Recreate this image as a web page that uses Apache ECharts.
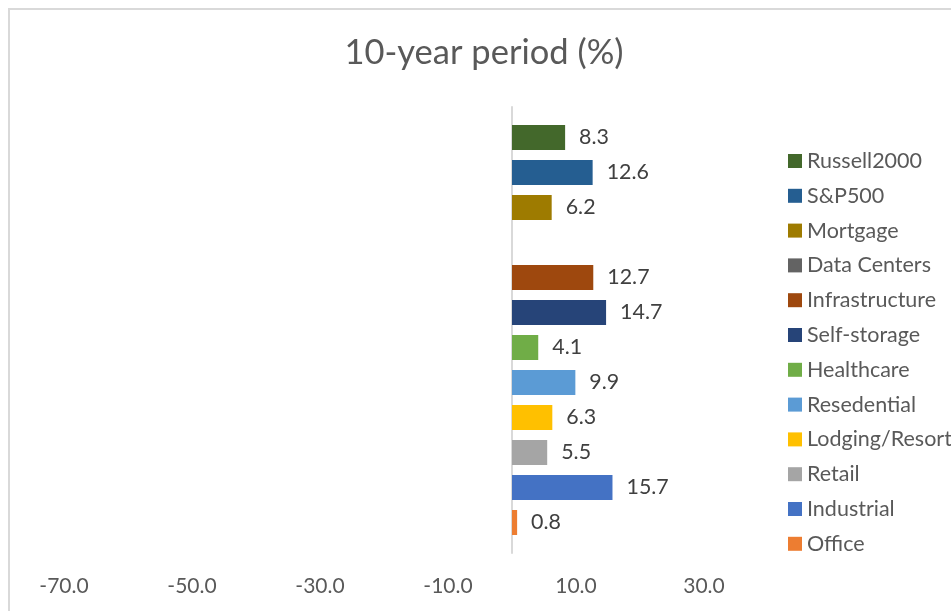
<!DOCTYPE html>
<html>
<head>
<meta charset="utf-8">
<style>
  html, body { margin: 0; padding: 0; background: #ffffff; }
  #chart { width: 951px; height: 611px; }
</style>
<script src="https://cdn.jsdelivr.net/npm/echarts@6/dist/echarts.min.js"></script>
</head>
<body>
<div id="chart"></div>
<script>
// 10-year returns by sector / benchmark (%), listed top to bottom
const seriesNames = ['Russell2000', 'S&P500', 'Mortgage', 'Data Centers', 'Infrastructure',
  'Self-storage', 'Healthcare', 'Resedential', 'Lodging/Resort', 'Retail', 'Industrial', 'Office'];
const seriesValues = [8.3, 12.6, 6.2, null, 12.7, 14.7, 4.1, 9.9, 6.3, 5.5, 15.7, 0.8];
const seriesColors = ['#43682b', '#255e91', '#9e7b00', '#636363', '#9e480e', '#264478',
  '#70ad47', '#5b9bd5', '#ffc000', '#a5a5a5', '#4472c4', '#ed7d31'];
const periods = ['10-year'];
const axisMin = -70;
const axisMax = 40;

const FONT = 'Lato, "Open Sans", sans-serif';

const series = seriesNames.map((name, i) => ({
  name: name,
  type: 'bar',
  data: [seriesValues[i]],
  barWidth: 25,
  barGap: '40%',
  itemStyle: { color: seriesColors[i] },
  label: {
    show: true,
    position: 'right',
    distance: 14,
    color: '#404040',
    fontFamily: FONT,
    fontSize: 21.4,
    formatter: p => (p.value == null ? '' : Number(p.value).toFixed(1))
  }
}));

const chart = echarts.init(document.getElementById('chart'));
chart.setOption({
  animation: false,
  backgroundColor: '#ffffff',
  title: {
    text: '10-year period (%)',
    left: 479,
    top: 30,
    textAlign: 'center',
    textStyle: { color: '#595959', fontFamily: FONT, fontSize: 34.5, fontWeight: 'normal' }
  },
  legend: {
    orient: 'vertical',
    left: 783,
    top: 145,
    itemWidth: 14,
    itemHeight: 14,
    itemGap: 12.8,
    icon: 'rect',
    data: seriesNames,
    textStyle: { color: '#595959', fontFamily: FONT, fontSize: 21.5, lineHeight: 22 }
  },
  grid: { left: 64, right: 183, top: 107, bottom: 58, containLabel: false },
  xAxis: {
    type: 'value',
    min: axisMin,
    max: axisMax,
    interval: 10,
    axisLine: { show: false },
    axisTick: { show: false },
    splitLine: { show: false },
    axisLabel: {
      margin: 23,
      color: '#595959',
      fontFamily: FONT,
      fontSize: 21,
      formatter: v => (Math.abs(v % 20) === 10 ? v.toFixed(1) : '')
    }
  },
  yAxis: {
    type: 'category',
    data: periods,
    axisLine: { show: true, onZero: true, lineStyle: { color: '#d9d9d9', width: 2 } },
    axisTick: { show: false },
    axisLabel: { show: false },
    splitLine: { show: false }
  },
  graphic: [{
    type: 'rect',
    shape: { x: 9, y: 9, width: 1000, height: 700 },
    style: { fill: 'none', stroke: '#d9d9d9', lineWidth: 2 },
    silent: true
  }],
  series: series
});
</script>
</body>
</html>
